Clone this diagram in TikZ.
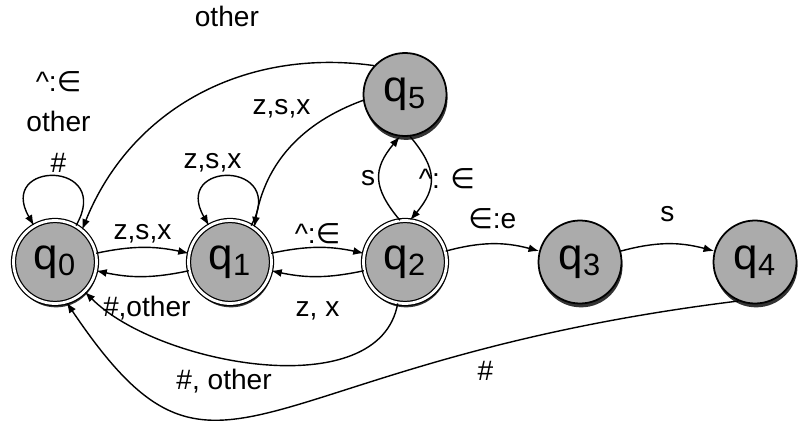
\documentclass[tikz,border=0pt]{standalone}
\usepackage{fontspec}
\setmainfont{Liberation Sans}
\newfontfamily\symfont{DejaVu Sans}
\usetikzlibrary{arrows.meta,positioning,shadows}

\begin{document}
\begin{tikzpicture}[
    auto,
    on grid,
    node distance=3.5cm,
    >={Latex[length=6pt,width=4.5pt]},
    font=\fontsize{16}{19}\selectfont,
    state/.style={
		circle,
		draw=black,
		line width=1pt,
		fill=black!33,
		minimum size=1.66cm,
		inner sep=0pt,
		font=\fontsize{25}{28}\selectfont,
		drop shadow={shadow xshift=0.6pt, shadow yshift=-2.2pt, fill=black!80, opacity=1}
	},
	final/.style={
		double,
		double distance=1.6pt,
		line width=0.7pt
	},
	trans/.style={
		->,
		line width=0.8pt
	},
	lab/.style={
		inner sep=2pt
	}
  ]
  \useasboundingbox (-1.1,-3.22) rectangle (14.86,5.24);

  % We start by placing the states
  \node [state, final] (q0) {q\textsubscript{0}};
  \node [state, final, right=of q0] (q1) {q\textsubscript{1}};
  \node [state, final, right=of q1] (q2) {q\textsubscript{2}};
  \node [state, right=of q2] (q3) {q\textsubscript{3}};
  \node [state, right=of q3] (q4) {q\textsubscript{4}};
  \node [state, above=3.35cm of q2] (q5) {q\textsubscript{5}};

  % loops
  \draw [trans] (q0) to [out=60, in=120, looseness=4.6] node [lab, above, xshift=2pt, align=center] {\textasciicircum:{\symfont ∈}\\[4pt]other\\[4pt]\#} (q0);
  \draw [trans] (q1) to [out=60, in=120, looseness=4.6] node [lab, above, xshift=-0.35cm] {z,s,x} (q1);

  % along the bottom row
  \draw [trans] (q0) to [bend left=12] node [lab] {z,s,x} (q1);
  \draw [trans] (q1) to [bend left=12] node [lab, pos=0.45, yshift=-9pt] {\#,other} (q0);
  \draw [trans] (q1) to [bend left=12] node [lab] {\textasciicircum:{\symfont ∈}} (q2);
  \draw [trans] (q2) to [bend left=12] node [lab, yshift=-12pt] {z, x} (q1);
  \draw [trans] (q2) to [bend left=15] node [lab, yshift=6pt] {{\symfont ∈}:e} (q3);
  \draw [trans] (q3) to [bend left=15] node [lab, yshift=10pt] {s} (q4);

  % to and from q5
  \draw [trans] (q2.97) to [out=130, in=-130, looseness=1.3] node [lab] {s} (q5.-97);
  \draw [trans] (q5.-83) to [out=-50, in=50, looseness=1.3] node [lab, xshift=-9pt] {\textasciicircum: {\symfont ∈}} (q2.83);
  \draw [trans] (q5.188) to [out=200, in=80] node [lab, swap, pos=0.3, yshift=2pt] {z,s,x} (q1.55);
  \draw [trans] (q5.137) to [out=172, in=68] node [lab, swap, pos=0.3, yshift=22pt] {other} (q0.50);

  % back to q0 underneath
  \draw [trans] (q2.-100) to [out=-100, in=-45, looseness=0.85] node [lab, pos=0.465] {\#, other} (q0.-45);
  \draw [trans] (q4.-113) to [out=187, in=-56, out distance=10cm, in distance=5.5cm] node [lab, pos=0.22, yshift=-3pt] {\#} (q0.-74);

\end{tikzpicture}
\end{document}
